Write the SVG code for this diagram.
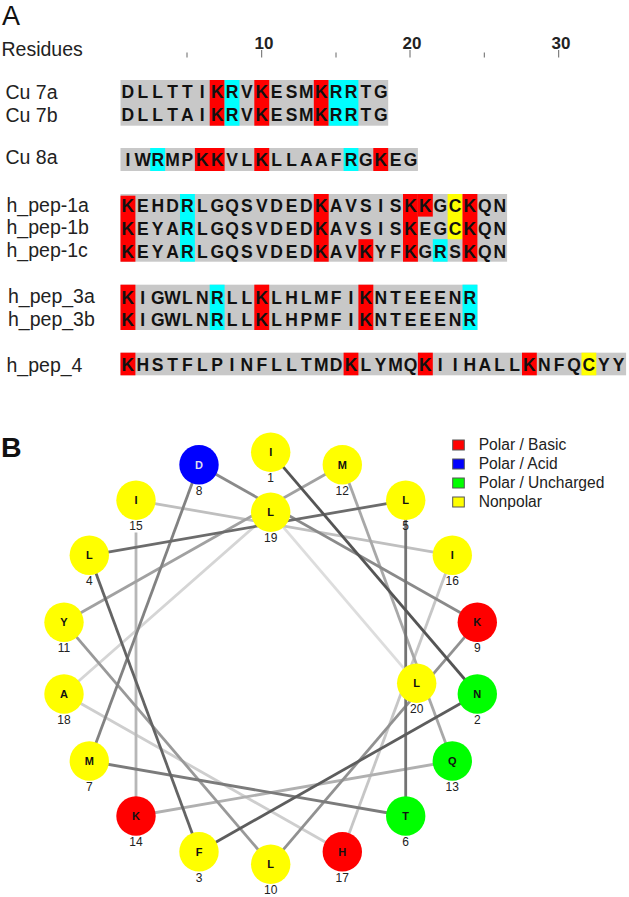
<svg xmlns="http://www.w3.org/2000/svg" width="629" height="897" viewBox="0 0 629 897">
<style>
text{font-family:"Liberation Sans",Arial,sans-serif}
.lab{font-size:19.5px;fill:#222}
.seq{font-size:17.5px;font-weight:bold;fill:#111;text-anchor:middle}
.num{font-size:17px;font-weight:bold;fill:#222;text-anchor:middle}
.g{fill:#c8c8c8}.r{fill:#f00}.c{fill:#0ff}.y{fill:#ff0}
.tick{stroke:#666;stroke-width:1;fill:none}
.edge{stroke-width:2.8;fill:none}
.n{stroke:none}
.nl{font-size:11px;font-weight:bold;fill:#111;text-anchor:middle}
.ni{font-size:12px;fill:#222;text-anchor:middle}
.leg{font-size:15.6px;fill:#222}
.sw{stroke:#555;stroke-width:1}
</style>
<rect width="629" height="897" fill="#fff"/>
<text x="2" y="24.5" font-size="27" fill="#111">A</text>
<text x="1" y="457" font-size="28.5" font-weight="bold" fill="#111">B</text>

<g id="ruler">
<text class="lab" x="1.5" y="56">Residues</text>
<text class="num" x="264" y="49">10</text><text class="num" x="412" y="49">20</text><text class="num" x="561" y="49">30</text>
<path class="tick" d="M187 52.5V57.5M261.7 50V57.5M336 52.5V57.5M410 50V57.5M484.3 52.5V57.5M558.7 50V57.5"/>
</g>

<g id="alignment-labels">
<text class="lab" x="5.5" y="99.3">Cu 7a</text>
<text class="lab" x="5.5" y="122">Cu 7b</text>
<text class="lab" x="5.5" y="164.3">Cu 8a</text>
<text class="lab" x="6.5" y="211.7">h_pep-1a</text>
<text class="lab" x="6.5" y="234">h_pep-1b</text>
<text class="lab" x="6.5" y="256.7">h_pep-1c</text>
<text class="lab" x="8" y="303.3">h_pep_3a</text>
<text class="lab" x="8" y="325.7">h_pep_3b</text>
<text class="lab" x="6.5" y="371.7">h_pep_4</text>
</g>

<g id="alignment-shading">
<rect class="g" x="120.5" y="80" width="267.7" height="45.7"/>
<rect class="r" x="209.7" y="80" width="14.9" height="45.7"/><rect class="c" x="224.6" y="80" width="14.9" height="45.7"/><rect class="r" x="254.3" y="80" width="14.9" height="45.7"/><rect class="r" x="313.8" y="80" width="14.9" height="45.7"/><rect class="c" x="328.7" y="80" width="29.7" height="45.7"/>

<rect class="g" x="120.5" y="148" width="297.4" height="23"/>
<rect class="c" x="150.2" y="148" width="14.9" height="23"/><rect class="r" x="194.9" y="148" width="29.7" height="23"/><rect class="r" x="254.3" y="148" width="14.9" height="23"/><rect class="c" x="343.6" y="148" width="14.8" height="23"/><rect class="r" x="373.3" y="148" width="14.9" height="23"/>

<rect class="g" x="120.5" y="194" width="386.6" height="67.7"/>
<rect class="r" x="120.5" y="195.7" width="14.9" height="66"/><rect class="c" x="180" y="194" width="14.9" height="67.7"/><rect class="r" x="313.8" y="194" width="14.9" height="67.7"/><rect class="r" x="403" y="194" width="14.9" height="67.7"/><rect class="r" x="417.9" y="194" width="14.9" height="22.6"/><rect class="y" x="447.6" y="194" width="14.9" height="45.2"/><rect class="r" x="462.5" y="194" width="14.9" height="67.7"/><rect class="r" x="358.4" y="239.2" width="14.9" height="22.5"/><rect class="c" x="432.8" y="239.2" width="14.8" height="22.5"/>

<rect class="g" x="120.5" y="284.7" width="356.9" height="45.3"/>
<rect class="r" x="120.5" y="284.7" width="14.9" height="45.3"/><rect class="c" x="209.7" y="284.7" width="14.9" height="45.3"/><rect class="r" x="254.3" y="284.7" width="14.9" height="45.3"/><rect class="r" x="358.4" y="284.7" width="14.9" height="45.3"/><rect class="c" x="462.5" y="284.7" width="14.9" height="45.3"/>

<rect class="g" x="120.5" y="352.7" width="505.6" height="22.6"/>
<rect class="r" x="120.5" y="352.7" width="14.9" height="22.6"/><rect class="r" x="343.6" y="352.7" width="14.8" height="22.6"/><rect class="r" x="417.9" y="352.7" width="14.9" height="22.6"/><rect class="r" x="522" y="352.7" width="14.8" height="22.6"/><rect class="y" x="581.5" y="352.7" width="14.8" height="22.6"/>
</g>

<g id="alignment-sequences">
<text class="seq" y="98.3" x="127.9 142.8 157.7 172.5 187.4 202.3 217.2 232 246.9 261.8 276.6 291.5 306.4 321.2 336.1 351 365.9 380.7">DLLTTIKRVKESMKRRTG</text>
<text class="seq" y="121.2" x="127.9 142.8 157.7 172.5 187.4 202.3 217.2 232 246.9 261.8 276.6 291.5 306.4 321.2 336.1 351 365.9 380.7">DLLTAIKRVKESMKRRTG</text>
<text class="seq" y="166.3" x="127.9 142.8 157.7 172.5 187.4 202.3 217.2 232 246.9 261.8 276.6 291.5 306.4 321.2 336.1 351 365.9 380.7 395.6 410.5">IWRMPKKVLKLLAAFRGKEG</text>
<text class="seq" y="212" x="127.9 142.8 157.7 172.5 187.4 202.3 217.2 232 246.9 261.8 276.6 291.5 306.4 321.2 336.1 351 365.9 380.7 395.6 410.5 425.3 440.2 455.1 469.9 484.8 499.7">KEHDRLGQSVDEDKAVSISKKGCKQN</text>
<text class="seq" y="234.7" x="127.9 142.8 157.7 172.5 187.4 202.3 217.2 232 246.9 261.8 276.6 291.5 306.4 321.2 336.1 351 365.9 380.7 395.6 410.5 425.3 440.2 455.1 469.9 484.8 499.7">KEYARLGQSVDEDKAVSISKEGCKQN</text>
<text class="seq" y="257.7" x="127.9 142.8 157.7 172.5 187.4 202.3 217.2 232 246.9 261.8 276.6 291.5 306.4 321.2 336.1 351 365.9 380.7 395.6 410.5 425.3 440.2 455.1 469.9 484.8 499.7">KEYARLGQSVDEDKAVKYFKGRSKQN</text>
<text class="seq" y="303.7" x="127.9 142.8 157.7 172.5 187.4 202.3 217.2 232 246.9 261.8 276.6 291.5 306.4 321.2 336.1 351 365.9 380.7 395.6 410.5 425.3 440.2 455.1 469.9">KIGWLNRLLKLHLMFIKNTEEENR</text>
<text class="seq" y="326.3" x="127.9 142.8 157.7 172.5 187.4 202.3 217.2 232 246.9 261.8 276.6 291.5 306.4 321.2 336.1 351 365.9 380.7 395.6 410.5 425.3 440.2 455.1 469.9">KIGWLNRLLKLHPMFIKNTEEENR</text>
<text class="seq" y="371.3" x="127.9 142.8 157.7 172.5 187.4 202.3 217.2 232 246.9 261.8 276.6 291.5 306.4 321.2 336.1 351 365.9 380.7 395.6 410.5 425.3 440.2 455.1 469.9 484.8 499.7 514.6 529.4 544.3 559.2 574 588.9 603.8 618.6">KHSTFLPINFLLTMDKLYMQKIIHALLKNFQCYY</text>
</g>

<g id="connectors" class="edge">
<line x1="270.7" y1="512.3" x2="416.7" y2="683.3" stroke="#ddd"/>
<line x1="64" y1="694" x2="270.7" y2="512.3" stroke="#d5d5d5"/>
<line x1="342.3" y1="851.7" x2="64" y2="694" stroke="#cecece"/>
<line x1="452.3" y1="555.3" x2="342.3" y2="851.7" stroke="#c6c6c6"/>
<line x1="136" y1="500.3" x2="452.3" y2="555.3" stroke="#bfbfbf"/>
<line x1="136" y1="816" x2="136" y2="532.5" stroke="#b7b7b7"/>
<line x1="452.3" y1="761" x2="136" y2="816" stroke="#b0b0b0"/>
<line x1="342.3" y1="464.7" x2="452.3" y2="761" stroke="#a8a8a8"/>
<line x1="64" y1="622.3" x2="342.3" y2="464.7" stroke="#a1a1a1"/>
<line x1="270.7" y1="864.3" x2="64" y2="622.3" stroke="#999"/>
<line x1="477.3" y1="622.3" x2="270.7" y2="864.3" stroke="#919191"/>
<line x1="199" y1="464.7" x2="477.3" y2="622.3" stroke="#8a8a8a"/>
<line x1="89.3" y1="761" x2="199" y2="464.7" stroke="#828282"/>
<line x1="405.7" y1="816" x2="89.3" y2="761" stroke="#7b7b7b"/>
<line x1="405.7" y1="500.3" x2="405.7" y2="816" stroke="#737373"/>
<line x1="89.3" y1="555.3" x2="405.7" y2="500.3" stroke="#6c6c6c"/>
<line x1="199" y1="851.7" x2="89.3" y2="555.3" stroke="#646464"/>
<line x1="477.3" y1="694" x2="199" y2="851.7" stroke="#5d5d5d"/>
<line x1="270.7" y1="452.3" x2="477.3" y2="694" stroke="#555"/>
</g>

<g id="res-1"><circle class="n" cx="270.7" cy="452.3" r="19.7" fill="#ff0"/><text class="nl" x="270.7" y="456.2">I</text><text class="ni" x="270.7" y="482.3">1</text></g>
<g id="res-2"><circle class="n" cx="477.3" cy="694" r="19.7" fill="#0f0"/><text class="nl" x="477.3" y="697.9">N</text><text class="ni" x="477.3" y="724">2</text></g>
<g id="res-3"><circle class="n" cx="199" cy="851.7" r="19.7" fill="#ff0"/><text class="nl" x="199" y="855.6">F</text><text class="ni" x="199" y="881.7">3</text></g>
<g id="res-4"><circle class="n" cx="89.3" cy="555.3" r="19.7" fill="#ff0"/><text class="nl" x="89.3" y="559.2">L</text><text class="ni" x="89.3" y="585.3">4</text></g>
<g id="res-5"><circle class="n" cx="405.7" cy="500.3" r="19.7" fill="#ff0"/><text class="nl" x="405.7" y="504.2">L</text><text class="ni" x="405.7" y="530.3">5</text></g>
<g id="res-6"><circle class="n" cx="405.7" cy="816" r="19.7" fill="#0f0"/><text class="nl" x="405.7" y="819.9">T</text><text class="ni" x="405.7" y="846">6</text></g>
<g id="res-7"><circle class="n" cx="89.3" cy="761" r="19.7" fill="#ff0"/><text class="nl" x="89.3" y="764.9">M</text><text class="ni" x="89.3" y="791">7</text></g>
<g id="res-8"><circle class="n" cx="199" cy="464.7" r="19.7" fill="#00f"/><text class="nl" x="199" y="468.6" style="fill:#dde">D</text><text class="ni" x="199" y="494.7">8</text></g>
<g id="res-9"><circle class="n" cx="477.3" cy="622.3" r="19.7" fill="#f00"/><text class="nl" x="477.3" y="626.2">K</text><text class="ni" x="477.3" y="652.3">9</text></g>
<g id="res-10"><circle class="n" cx="270.7" cy="864.3" r="19.7" fill="#ff0"/><text class="nl" x="270.7" y="868.2">L</text><text class="ni" x="270.7" y="894.3">10</text></g>
<g id="res-11"><circle class="n" cx="64" cy="622.3" r="19.7" fill="#ff0"/><text class="nl" x="64" y="626.2">Y</text><text class="ni" x="64" y="652.3">11</text></g>
<g id="res-12"><circle class="n" cx="342.3" cy="464.7" r="19.7" fill="#ff0"/><text class="nl" x="342.3" y="468.6">M</text><text class="ni" x="342.3" y="494.7">12</text></g>
<g id="res-13"><circle class="n" cx="452.3" cy="761" r="19.7" fill="#0f0"/><text class="nl" x="452.3" y="764.9">Q</text><text class="ni" x="452.3" y="791">13</text></g>
<g id="res-14"><circle class="n" cx="136" cy="816" r="19.7" fill="#f00"/><text class="nl" x="136" y="819.9">K</text><text class="ni" x="136" y="846">14</text></g>
<g id="res-15"><circle class="n" cx="136" cy="500.3" r="19.7" fill="#ff0"/><text class="nl" x="136" y="504.2">I</text><text class="ni" x="136" y="530.3">15</text></g>
<g id="res-16"><circle class="n" cx="452.3" cy="555.3" r="19.7" fill="#ff0"/><text class="nl" x="452.3" y="559.2">I</text><text class="ni" x="452.3" y="585.3">16</text></g>
<g id="res-17"><circle class="n" cx="342.3" cy="851.7" r="19.7" fill="#f00"/><text class="nl" x="342.3" y="855.6">H</text><text class="ni" x="342.3" y="881.7">17</text></g>
<g id="res-18"><circle class="n" cx="64" cy="694" r="19.7" fill="#ff0"/><text class="nl" x="64" y="697.9">A</text><text class="ni" x="64" y="724">18</text></g>
<g id="res-19"><circle class="n" cx="270.7" cy="512.3" r="19.7" fill="#ff0"/><text class="nl" x="270.7" y="516.2">L</text><text class="ni" x="270.7" y="542.3">19</text></g>
<g id="res-20"><circle class="n" cx="416.7" cy="683.3" r="19.7" fill="#ff0"/><text class="nl" x="416.7" y="687.2">L</text><text class="ni" x="416.7" y="713.3">20</text></g>

<g id="legend">
<rect class="sw" x="452.7" y="440" width="11.6" height="10" fill="#f00"/><text class="leg" x="478.7" y="450">Polar / Basic</text>
<rect class="sw" x="452.7" y="459" width="11.6" height="10" fill="#00f"/><text class="leg" x="478.7" y="469">Polar / Acid</text>
<rect class="sw" x="452.7" y="478" width="11.6" height="10" fill="#0f0"/><text class="leg" x="478.7" y="488">Polar / Uncharged</text>
<rect class="sw" x="452.7" y="497" width="11.6" height="10" fill="#ff0"/><text class="leg" x="478.7" y="507">Nonpolar</text>
</g>
</svg>
